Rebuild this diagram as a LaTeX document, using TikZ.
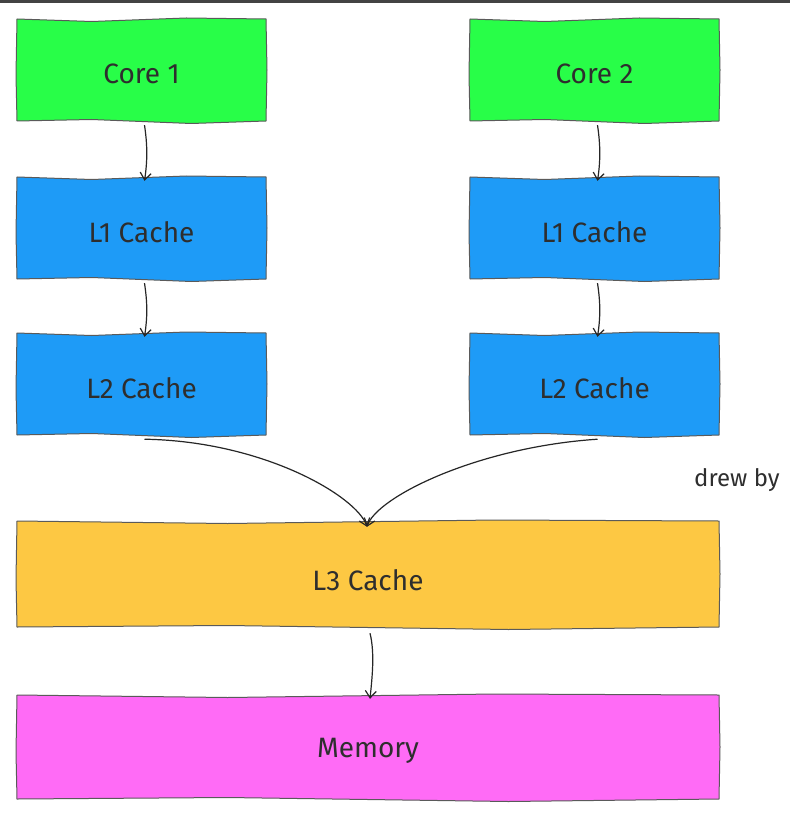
\documentclass[tikz,border=0pt]{standalone}
\usepackage{fontspec}
\setmainfont{Fira Sans}
\usetikzlibrary{arrows.meta}
\definecolor{coregreen}{HTML}{28FE48}
\definecolor{cacheblue}{HTML}{1E9BF7}
\definecolor{lthreeyellow}{HTML}{FDC843}
\definecolor{memmagenta}{HTML}{FF6BF6}
\definecolor{edgegray}{HTML}{5A5A5A}
\definecolor{inkdark}{HTML}{2E2E2E}
\newcommand{\wobblybox}[5]{%
  \fill[#5] (#1,#2) -- ({#1+0.3*(#3-#1)},{#2+2.5}) -- ({#1+0.68*(#3-#1)},{#2-1}) -- (#3,#2)
     -- ({#3+1},{#2+0.5*(#4-#2)}) -- (#3,#4)
     -- ({#1+0.7*(#3-#1)},{#4+2.5}) -- ({#1+0.3*(#3-#1)},{#4-1.5}) -- (#1,#4)
     -- ({#1-1},{#2+0.55*(#4-#2)}) -- cycle;
  \draw[edgegray,line width=1pt,line join=round] (#1,#2) -- ({#1+0.3*(#3-#1)},{#2+2.5}) -- ({#1+0.68*(#3-#1)},{#2-1}) -- (#3,#2)
     -- ({#3+1},{#2+0.5*(#4-#2)}) -- (#3,#4)
     -- ({#1+0.7*(#3-#1)},{#4+2.5}) -- ({#1+0.3*(#3-#1)},{#4-1.5}) -- (#1,#4)
     -- ({#1-1},{#2+0.55*(#4-#2)}) -- cycle;}
\tikzset{
  lbl/.style={inner sep=0pt, text=inkdark, font=\fontsize{28}{32}\selectfont},
  link/.style={draw=black!85, line width=1.2pt, -{Straight Barb[length=7pt,width=11pt]}}
}
\begin{document}
\begin{tikzpicture}[x=1pt,y=-1pt]
\useasboundingbox (0,0) rectangle (790,818);
\fill[white] (0,0) rectangle (790,818);
\fill[inkdark!90] (0,0) rectangle (790,3);
% boxes
\wobblybox{17}{19}{266}{121}{coregreen}
\wobblybox{470}{19}{719}{121}{coregreen}
\wobblybox{17}{177}{266}{279}{cacheblue}
\wobblybox{470}{177}{719}{279}{cacheblue}
\wobblybox{17}{333}{266}{435}{cacheblue}
\wobblybox{470}{333}{719}{435}{cacheblue}
\wobblybox{17}{521}{719}{627}{lthreeyellow}
\wobblybox{17}{695}{719}{799}{memmagenta}
% labels
\node[lbl, minimum width=249pt, minimum height=102pt] (c1) at (141.5,74) {Core 1};
\node[lbl, minimum width=249pt, minimum height=102pt] (c2) at (594.5,74) {Core 2};
\node[lbl, minimum width=249pt, minimum height=102pt] (l1a) at (141.5,232) {L1 Cache};
\node[lbl, minimum width=249pt, minimum height=102pt] (l1b) at (594.5,232) {L1 Cache};
\node[lbl, minimum width=249pt, minimum height=102pt] (l2a) at (141.5,388) {L2 Cache};
\node[lbl, minimum width=249pt, minimum height=102pt] (l2b) at (594.5,388) {L2 Cache};
\node[lbl, minimum width=702pt, minimum height=106pt] (l3) at (368,580) {L3 Cache};
\node[lbl, minimum width=702pt, minimum height=104pt] (mem) at (368,751) {Memory};
\node[lbl, anchor=west, font=\fontsize{24}{28}\selectfont] (drew) at (694,480) {drew by};
% connectors
\draw[link] ([xshift=3pt]c1.south) .. controls +(3,20) and +(3,-20) .. ([xshift=3pt]l1a.north);
\draw[link] ([xshift=3pt]c2.south) .. controls +(3,20) and +(3,-20) .. ([xshift=3pt]l1b.north);
\draw[link] ([xshift=3pt]l1a.south) .. controls +(3,20) and +(3,-20) .. ([xshift=3pt]l1a.south |- l2a.north);
\draw[link] ([xshift=3pt]l1b.south) .. controls +(3,20) and +(3,-20) .. ([xshift=3pt]l1b.south |- l2b.north);
\draw[link] ([xshift=3pt]l2a.south) .. controls +(120,2) and +(-10,-30) .. ([xshift=-1pt]l3.north);
\draw[link] ([xshift=3pt]l2b.south) .. controls +(-120,8) and +(10,-30) .. ([xshift=-1pt]l3.north);
\draw[link] ([xshift=2pt]l3.south) .. controls +(5,20) and +(2,-20) .. ([xshift=2pt]mem.north);
\end{tikzpicture}
\end{document}
